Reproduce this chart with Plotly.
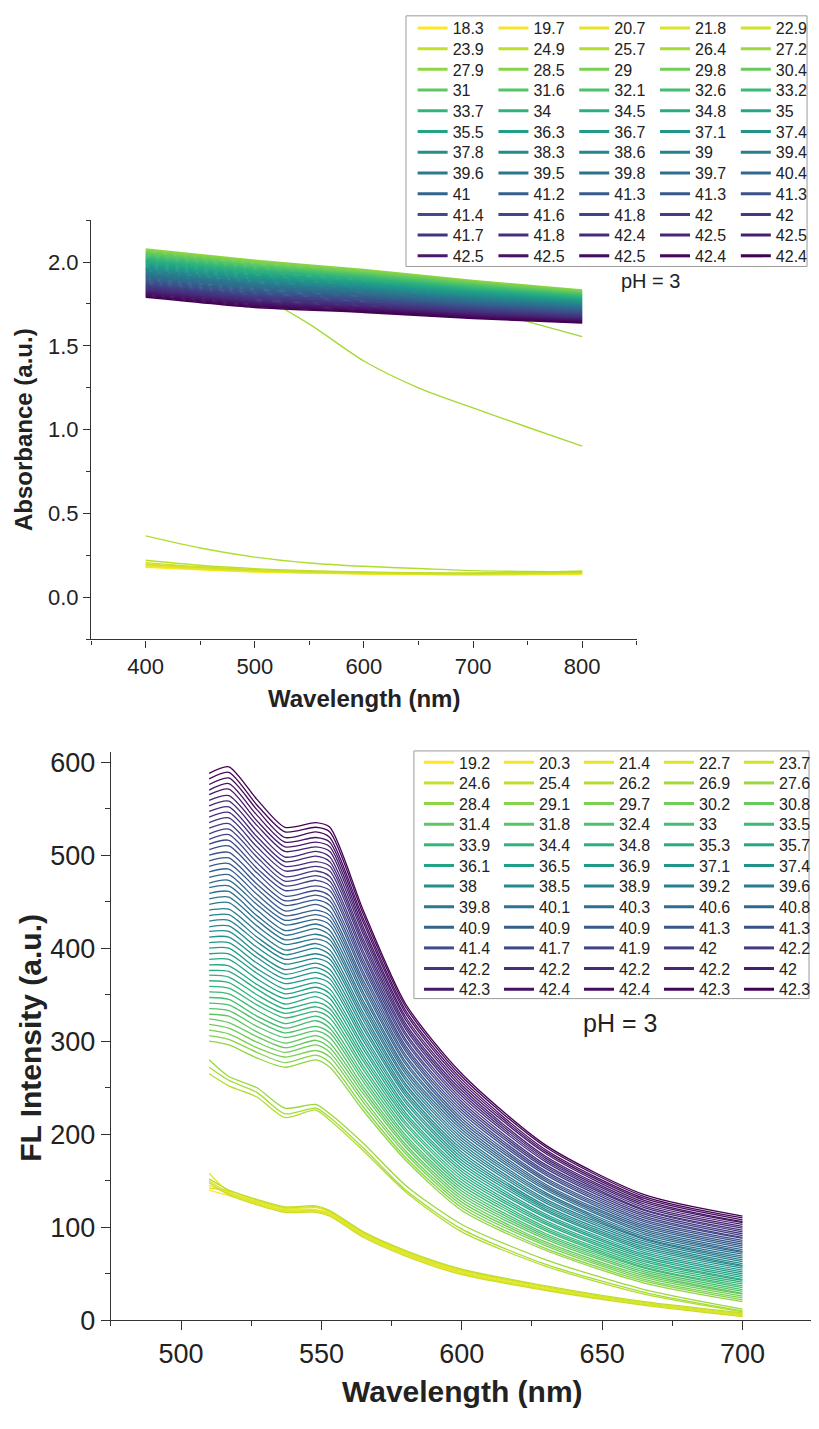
import plotly.graph_objects as go
from plotly.colors import sample_colorscale

# ---------------- data: absorbance (top) ----------------
ABS_WL_FINE = [400, 450, 500, 550, 600, 650, 700, 750, 800]
ABS_WL_BAND = [400, 500, 600, 700, 800]

# series 0-9 on the fine grid
ABS_LOW = [
    [0.180, 0.165, 0.152, 0.145, 0.140, 0.137, 0.135, 0.136, 0.138],
    [0.185, 0.168, 0.155, 0.147, 0.142, 0.138, 0.136, 0.138, 0.140],
    [0.190, 0.171, 0.158, 0.149, 0.143, 0.140, 0.138, 0.140, 0.143],
    [0.195, 0.175, 0.160, 0.151, 0.145, 0.141, 0.139, 0.142, 0.146],
    [0.200, 0.178, 0.163, 0.153, 0.147, 0.143, 0.141, 0.144, 0.149],
    [0.208, 0.183, 0.166, 0.156, 0.149, 0.145, 0.143, 0.147, 0.153],
    [0.222, 0.192, 0.172, 0.160, 0.152, 0.148, 0.146, 0.150, 0.158],
    [0.367, 0.295, 0.241, 0.206, 0.186, 0.173, 0.160, 0.155, 0.152],
    [1.960, 1.900, 1.810, 1.630, 1.410, 1.250, 1.130, 1.015, 0.902],
    [2.000, 1.970, 1.940, 1.900, 1.860, 1.800, 1.730, 1.645, 1.555],
]

# series 10-59 on the band grid
ABS_BAND = [
    [2.078, 2.010, 1.955, 1.890, 1.833],
    [2.072, 2.004, 1.950, 1.885, 1.829],
    [2.066, 1.999, 1.945, 1.881, 1.825],
    [2.060, 1.993, 1.939, 1.876, 1.821],
    [2.054, 1.987, 1.934, 1.871, 1.817],
    [2.049, 1.981, 1.929, 1.867, 1.813],
    [2.043, 1.976, 1.924, 1.862, 1.809],
    [2.037, 1.970, 1.919, 1.858, 1.805],
    [2.031, 1.964, 1.913, 1.853, 1.801],
    [2.025, 1.958, 1.908, 1.848, 1.797],
    [2.019, 1.953, 1.903, 1.844, 1.793],
    [2.013, 1.947, 1.898, 1.839, 1.789],
    [2.007, 1.941, 1.893, 1.834, 1.785],
    [2.002, 1.935, 1.887, 1.830, 1.781],
    [1.996, 1.930, 1.882, 1.825, 1.777],
    [1.990, 1.924, 1.877, 1.821, 1.773],
    [1.984, 1.918, 1.872, 1.816, 1.769],
    [1.978, 1.913, 1.867, 1.811, 1.765],
    [1.972, 1.907, 1.861, 1.807, 1.761],
    [1.966, 1.901, 1.856, 1.802, 1.757],
    [1.960, 1.895, 1.851, 1.797, 1.753],
    [1.955, 1.890, 1.846, 1.793, 1.749],
    [1.949, 1.884, 1.840, 1.788, 1.745],
    [1.943, 1.878, 1.835, 1.783, 1.741],
    [1.937, 1.872, 1.830, 1.779, 1.737],
    [1.931, 1.867, 1.825, 1.774, 1.733],
    [1.925, 1.861, 1.820, 1.770, 1.729],
    [1.919, 1.855, 1.814, 1.765, 1.725],
    [1.913, 1.849, 1.809, 1.760, 1.721],
    [1.908, 1.844, 1.804, 1.756, 1.717],
    [1.902, 1.838, 1.799, 1.751, 1.713],
    [1.896, 1.832, 1.794, 1.746, 1.709],
    [1.890, 1.826, 1.788, 1.742, 1.705],
    [1.884, 1.821, 1.783, 1.737, 1.701],
    [1.878, 1.815, 1.778, 1.732, 1.697],
    [1.872, 1.809, 1.773, 1.728, 1.693],
    [1.866, 1.804, 1.768, 1.723, 1.689],
    [1.861, 1.798, 1.762, 1.719, 1.685],
    [1.855, 1.792, 1.757, 1.714, 1.681],
    [1.849, 1.786, 1.752, 1.709, 1.677],
    [1.843, 1.781, 1.747, 1.705, 1.673],
    [1.837, 1.775, 1.742, 1.700, 1.669],
    [1.831, 1.769, 1.736, 1.695, 1.665],
    [1.825, 1.763, 1.731, 1.691, 1.661],
    [1.819, 1.758, 1.726, 1.686, 1.657],
    [1.813, 1.752, 1.721, 1.682, 1.653],
    [1.808, 1.746, 1.716, 1.677, 1.649],
    [1.802, 1.740, 1.710, 1.672, 1.645],
    [1.796, 1.735, 1.705, 1.668, 1.641],
    [1.790, 1.729, 1.700, 1.663, 1.637],
]

ABS_LABELS = [
    "18.3", "19.7", "20.7", "21.8", "22.9",
    "23.9", "24.9", "25.7", "26.4", "27.2",
    "27.9", "28.5", "29", "29.8", "30.4",
    "31", "31.6", "32.1", "32.6", "33.2",
    "33.7", "34", "34.5", "34.8", "35",
    "35.5", "36.3", "36.7", "37.1", "37.4",
    "37.8", "38.3", "38.6", "39", "39.4",
    "39.6", "39.5", "39.8", "39.7", "40.4",
    "41", "41.2", "41.3", "41.3", "41.3",
    "41.4", "41.6", "41.8", "42", "42",
    "41.7", "41.8", "42.4", "42.5", "42.5",
    "42.5", "42.5", "42.5", "42.4", "42.4",
]

# ---------------- data: fluorescence (bottom) ----------------
FL_WL = [510, 517, 527, 537, 548, 553, 565, 580, 600, 630, 665, 700]

FL_VALUES = [
    [140, 134, 125, 117, 117, 113, 90, 70, 50, 33, 17, 5],
    [145, 136, 127, 119, 119, 115, 92, 72, 52, 34, 18, 6],
    [158, 138, 128, 120, 121, 116, 93, 73, 53, 35, 18, 6],
    [150, 137, 126, 118, 118, 114, 91, 71, 51, 33, 17, 5],
    [142, 139, 129, 121, 122, 117, 94, 74, 54, 36, 19, 7],
    [148, 135, 124, 116, 116, 112, 89, 69, 49, 32, 16, 4],
    [152, 140, 130, 122, 123, 118, 95, 75, 55, 37, 20, 8],
    [265, 252, 240, 218, 226, 215, 182, 138, 95, 58, 28, 9],
    [272, 258, 245, 222, 228, 218, 185, 140, 98, 60, 30, 10],
    [280, 262, 250, 228, 232, 222, 190, 145, 103, 65, 33, 12],
    [300, 296, 282, 272, 280, 272, 225, 172, 118, 75, 40, 20],
    [306, 302, 288, 277, 285, 277, 229, 175, 121, 77, 42, 22],
    [312, 308, 293, 283, 290, 283, 234, 179, 124, 80, 44, 24],
    [318, 314, 299, 288, 296, 288, 238, 182, 127, 82, 46, 26],
    [324, 320, 305, 293, 301, 293, 243, 186, 130, 84, 48, 28],
    [329, 327, 310, 298, 306, 298, 247, 189, 133, 87, 50, 29],
    [335, 333, 316, 304, 311, 304, 251, 193, 136, 89, 52, 31],
    [341, 339, 322, 309, 316, 309, 256, 196, 139, 91, 54, 33],
    [347, 345, 327, 314, 322, 314, 260, 199, 142, 93, 56, 35],
    [353, 351, 333, 319, 327, 319, 264, 203, 145, 96, 57, 37],
    [359, 357, 339, 325, 332, 325, 269, 206, 148, 98, 59, 39],
    [365, 363, 344, 330, 337, 330, 273, 210, 151, 100, 61, 41],
    [371, 369, 350, 335, 342, 335, 278, 213, 154, 103, 63, 43],
    [376, 375, 356, 340, 348, 340, 282, 217, 157, 105, 65, 44],
    [382, 381, 361, 346, 353, 346, 286, 220, 160, 107, 67, 46],
    [388, 388, 367, 351, 358, 351, 291, 223, 163, 110, 69, 48],
    [394, 394, 373, 356, 363, 356, 295, 227, 166, 112, 71, 50],
    [400, 400, 378, 362, 368, 362, 300, 230, 169, 114, 73, 52],
    [406, 406, 384, 367, 374, 367, 304, 234, 172, 117, 75, 54],
    [412, 412, 390, 372, 379, 372, 308, 237, 175, 119, 77, 56],
    [418, 418, 395, 377, 384, 377, 313, 241, 178, 121, 79, 58],
    [423, 424, 401, 383, 389, 383, 317, 244, 181, 123, 81, 59],
    [429, 430, 407, 388, 394, 388, 322, 247, 184, 126, 83, 61],
    [435, 436, 412, 393, 400, 393, 326, 251, 187, 128, 85, 63],
    [441, 442, 418, 398, 405, 398, 330, 254, 190, 130, 87, 65],
    [447, 449, 424, 404, 410, 404, 335, 258, 193, 133, 88, 67],
    [453, 455, 430, 409, 415, 409, 339, 261, 196, 135, 90, 69],
    [459, 461, 435, 414, 421, 414, 343, 265, 199, 137, 92, 71],
    [465, 467, 441, 419, 426, 419, 348, 268, 202, 140, 94, 73],
    [470, 473, 447, 425, 431, 425, 352, 271, 205, 142, 96, 74],
    [476, 479, 452, 430, 436, 430, 357, 275, 208, 144, 98, 76],
    [482, 485, 458, 435, 441, 435, 361, 278, 211, 146, 100, 78],
    [488, 491, 464, 440, 447, 440, 365, 282, 214, 149, 102, 80],
    [494, 497, 469, 446, 452, 446, 370, 285, 217, 151, 104, 82],
    [500, 503, 475, 451, 457, 451, 374, 289, 220, 153, 106, 84],
    [506, 510, 481, 456, 462, 456, 379, 292, 223, 156, 108, 86],
    [512, 516, 486, 462, 467, 462, 383, 295, 226, 158, 110, 88],
    [517, 522, 492, 467, 473, 467, 387, 299, 229, 160, 112, 89],
    [523, 528, 498, 472, 478, 472, 392, 302, 232, 163, 114, 91],
    [529, 534, 503, 477, 483, 477, 396, 306, 235, 165, 116, 93],
    [535, 540, 509, 483, 488, 483, 401, 309, 238, 167, 118, 95],
    [541, 546, 515, 488, 493, 488, 405, 313, 241, 170, 119, 97],
    [547, 552, 520, 493, 499, 493, 409, 316, 244, 172, 121, 99],
    [553, 558, 526, 498, 504, 498, 414, 319, 247, 174, 123, 101],
    [559, 564, 532, 504, 509, 504, 418, 323, 250, 176, 125, 103],
    [565, 571, 537, 509, 514, 509, 422, 326, 253, 179, 127, 105],
    [570, 577, 543, 514, 519, 514, 427, 330, 256, 181, 129, 106],
    [576, 583, 549, 519, 525, 519, 431, 333, 259, 183, 131, 108],
    [582, 589, 554, 525, 530, 525, 436, 337, 262, 186, 133, 110],
    [588, 595, 560, 530, 535, 530, 440, 340, 265, 188, 135, 112],
]

FL_LABELS = [
    "19.2", "20.3", "21.4", "22.7", "23.7",
    "24.6", "25.4", "26.2", "26.9", "27.6",
    "28.4", "29.1", "29.7", "30.2", "30.8",
    "31.4", "31.8", "32.4", "33", "33.5",
    "33.9", "34.4", "34.8", "35.3", "35.7",
    "36.1", "36.5", "36.9", "37.1", "37.4",
    "38", "38.5", "38.9", "39.2", "39.6",
    "39.8", "40.1", "40.3", "40.6", "40.8",
    "40.9", "40.9", "40.9", "41.3", "41.3",
    "41.4", "41.7", "41.9", "42", "42.2",
    "42.2", "42.2", "42.2", "42.2", "42",
    "42.3", "42.4", "42.4", "42.3", "42.3",
]

# ---------------- figure ----------------
W, H = 819, 1429
N = len(ABS_LABELS)
COLORS = sample_colorscale("Viridis", [1 - i / (N - 1) for i in range(N)])
FONT = "Arial, Liberation Sans, sans-serif"
TXT = "#222222"
AX = "#333333"
NCOL = 5
NROW = N // NCOL
LEG_FONT = 16
ITEM_H = LEG_FONT * 1.3 + 3


def fx(p):
    return p / W


def fy(p):
    return 1 - p / H


fig = go.Figure()

# absorbance curves
for i in range(N):
    if i < len(ABS_LOW):
        xs, ys, lw = ABS_WL_FINE, ABS_LOW[i], 1.4
        shp = dict(shape="spline", smoothing=0.8)
    else:
        xs, ys, lw = ABS_WL_BAND, ABS_BAND[i - len(ABS_LOW)], 1.6
        shp = dict(shape="spline", smoothing=0.5)
    fig.add_trace(go.Scatter(x=xs, y=ys, mode="lines",
                             line=dict(color=COLORS[i], width=lw, **shp),
                             showlegend=False, hoverinfo="skip",
                             xaxis="x", yaxis="y"))

# fluorescence curves
for i in range(N):
    fig.add_trace(go.Scatter(x=FL_WL, y=FL_VALUES[i], mode="lines",
                             line=dict(color=COLORS[i], width=1.3,
                                       shape="spline", smoothing=0.7),
                             showlegend=False, hoverinfo="skip",
                             xaxis="x2", yaxis="y2"))


def legend_name(k):
    return "legend" if k == 0 else f"legend{k + 1}"


# legend entries: one horizontal legend per row (12 rows x 5 columns per panel)
for i in range(N):
    fig.add_trace(go.Scatter(x=[None], y=[None], mode="lines",
                             line=dict(color=COLORS[i], width=3),
                             name=ABS_LABELS[i],
                             legend=legend_name(i // NCOL),
                             xaxis="x", yaxis="y"))
for i in range(N):
    fig.add_trace(go.Scatter(x=[None], y=[None], mode="lines",
                             line=dict(color=COLORS[i], width=3),
                             name=FL_LABELS[i],
                             legend=legend_name(NROW + i // NCOL),
                             xaxis="x2", yaxis="y2"))

legends = {}
# top panel legend rows
for r in range(NROW):
    cy = 24 + 21.0 * r
    legends[legend_name(r)] = dict(
        x=fx(416.7), y=fy(cy - 5 - ITEM_H / 2), xanchor="left", yanchor="top",
        orientation="h", entrywidth=35.8, entrywidthmode="pixels",
        bgcolor="rgba(0,0,0,0)", borderwidth=0,
        font=dict(family=FONT, size=LEG_FONT, color=TXT),
        itemwidth=30, traceorder="normal",
        itemclick=False, itemdoubleclick=False)
# bottom panel legend rows
for r in range(NROW):
    cy = 768.3 + 20.9 * r
    legends[legend_name(NROW + r)] = dict(
        x=fx(423.3), y=fy(cy - 5 - ITEM_H / 2), xanchor="left", yanchor="top",
        orientation="h", entrywidth=35.0, entrywidthmode="pixels",
        bgcolor="rgba(0,0,0,0)", borderwidth=0,
        font=dict(family=FONT, size=LEG_FONT, color=TXT),
        itemwidth=30, traceorder="normal",
        itemclick=False, itemdoubleclick=False)

axis_common = dict(showline=True, linecolor=AX, linewidth=1.4,
                   showgrid=False, zeroline=False, ticks="outside",
                   tickcolor=AX, tickwidth=1.3)

fig.update_layout(
    width=W, height=H,
    margin=dict(l=0, r=0, t=0, b=0),
    paper_bgcolor="white", plot_bgcolor="white",
    font=dict(family=FONT, color=TXT),
    xaxis=dict(**axis_common, domain=[fx(92), fx(643)], anchor="y",
               range=[350, 850], tick0=0, dtick=100, ticklen=7,
               tickfont=dict(size=22, family=FONT, color=TXT),
               minor=dict(ticks="outside", dtick=50, tick0=0, ticklen=4,
                          tickcolor=AX, tickwidth=1.3, showgrid=False)),
    yaxis=dict(**axis_common, domain=[fy(644), fy(219)], anchor="x",
               range=[-0.25, 2.25], tick0=0, dtick=0.5, tickformat=".1f",
               ticklen=7, tickfont=dict(size=22, family=FONT, color=TXT),
               minor=dict(ticks="outside", dtick=0.25, tick0=0, ticklen=4,
                          tickcolor=AX, tickwidth=1.3, showgrid=False)),
    xaxis2=dict(**axis_common, domain=[fx(112), 1.0], anchor="y2",
                range=[475, 724.4], tick0=0, dtick=50, ticklen=9,
                tickfont=dict(size=27, family=FONT, color=TXT),
                minor=dict(ticks="outside", dtick=25, tick0=0, ticklen=5,
                           tickcolor=AX, tickwidth=1.3, showgrid=False)),
    yaxis2=dict(**axis_common, domain=[fy(1334), fy(758)], anchor="x2",
                range=[0, 611], tick0=0, dtick=100, ticklen=9,
                tickfont=dict(size=27, family=FONT, color=TXT),
                minor=dict(ticks="outside", dtick=50, tick0=0, ticklen=5,
                           tickcolor=AX, tickwidth=1.3, showgrid=False)),
    shapes=[
        dict(type="rect", xref="paper", yref="paper",
             x0=fx(410), x1=fx(815), y0=fy(266), y1=fy(12),
             line=dict(color="#9a9a9a", width=1), fillcolor="white",
             layer="above"),
        dict(type="rect", xref="paper", yref="paper",
             x0=fx(418), x1=fx(817), y0=fy(1008), y1=fy(757),
             line=dict(color="#9a9a9a", width=1), fillcolor="white",
             layer="above"),
    ],
    annotations=[
        dict(text="pH = 3", xref="paper", yref="paper", x=fx(657), y=fy(281),
             xanchor="center", yanchor="middle", showarrow=False,
             font=dict(size=20, family=FONT, color=TXT)),
        dict(text="pH = 3", xref="paper", yref="paper", x=fx(626), y=fy(1033),
             xanchor="center", yanchor="middle", showarrow=False,
             font=dict(size=25, family=FONT, color=TXT)),
        dict(text="<b>Wavelength (nm)</b>", xref="paper", yref="paper",
             x=fx(367.5), y=fy(704), xanchor="center", yanchor="middle",
             showarrow=False, font=dict(size=24, family=FONT, color=TXT)),
        dict(text="<b>Absorbance (a.u.)</b>", xref="paper", yref="paper",
             x=fx(24), y=fy(431), xanchor="center", yanchor="middle",
             showarrow=False, textangle=-90,
             font=dict(size=24, family=FONT, color=TXT)),
        dict(text="<b>Wavelength (nm)</b>", xref="paper", yref="paper",
             x=fx(467), y=fy(1406), xanchor="center", yanchor="middle",
             showarrow=False, font=dict(size=30, family=FONT, color=TXT)),
        dict(text="<b>FL Intensity (a.u.)</b>", xref="paper", yref="paper",
             x=fx(30), y=fy(1048), xanchor="center", yanchor="middle",
             showarrow=False, textangle=-90,
             font=dict(size=30, family=FONT, color=TXT)),
    ],
    **legends,
)

fig.write_html("out.html")
